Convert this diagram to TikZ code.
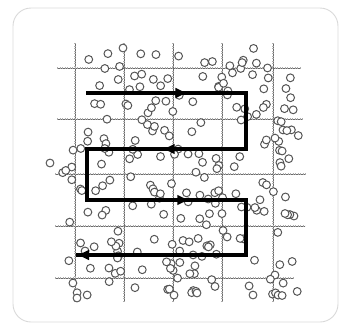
\documentclass[tikz,border=0pt]{standalone}
\usepackage{tikz}
\usetikzlibrary{arrows.meta,calc}
\definecolor{framegray}{HTML}{d9d9d9}
\definecolor{gridgray}{HTML}{6a6a6a}
\definecolor{dotgray}{HTML}{555555}
\tikzset{
  gridline/.style={gridgray, line width=0.9pt},
  gridtick/.style={gridgray!55, line width=2.2pt, dash pattern=on 0.3pt off 2.2pt},
  particle/.style={dotgray, fill=white, line width=1pt},
  scanpath/.style={black, line width=3.6pt, line join=miter},
  scantip/.style={-{Latex[length=13pt,width=11pt]}, black, line width=3.6pt}
}
\begin{document}
\begin{tikzpicture}[x=1pt, y=-1pt, >=Latex]
  \useasboundingbox (0,0) rectangle (343,325);
  % frame
  \draw[framegray, line width=0.9pt, rounded corners=18pt] (13,8) rectangle (338,322);
  % grid lines with tick marks
  \foreach \gx in {75,124,173,222,273}{
    \draw[gridline] (\gx,43) -- (\gx,302);
    \draw[gridtick] (\gx,43) -- (\gx,302);
  }
  \foreach \gy/\ga/\gb in {68/57/300, 119/57/303, 174/55/306, 226/55/305, 278/55/293}{
    \draw[gridline] (\ga,\gy) -- (\gb,\gy);
    \draw[gridtick] (\ga,\gy) -- (\gb,\gy);
  }
  % scattered particles
  \pgfmathsetseed{4217}
  \foreach \i in {1,...,230}{
    \pgfmathsetmacro{\cx}{62+238*rnd}
    \pgfmathsetmacro{\cy}{48+248*rnd}
    \draw[particle] (\cx,\cy) circle (3.9pt);
  }
  \foreach \cx/\cy in {50/163, 77/298, 253/295, 123/48}{
    \draw[particle] (\cx,\cy) circle (3.9pt);
  }
  % scan path corners
  \coordinate (p1) at (86,93);
  \coordinate (p2) at (246,93);
  \coordinate (p3) at (246,149);
  \coordinate (p4) at (87,149);
  \coordinate (p5) at (87,200);
  \coordinate (p6) at (246,200);
  \coordinate (p7) at (246,255);
  \coordinate (p8) at (76,255);
  \draw[scanpath] (p1) -- (p2) -- (p3) -- (p4) -- (p5) -- (p6) -- (p7) -- (p8);
  % direction arrows
  \draw[scantip] ($(p1)!0.5!(p2)$) -- ($(p1)!0.64!(p2)$);
  \draw[scantip] ($(p3)!0.36!(p4)$) -- ($(p3)!0.53!(p4)$);
  \draw[scantip] ($(p5)!0.5!(p6)$) -- ($(p5)!0.65!(p6)$);
  \draw[scantip] ($(p7)!0.8!(p8)$) -- (p8);
\end{tikzpicture}
\end{document}
